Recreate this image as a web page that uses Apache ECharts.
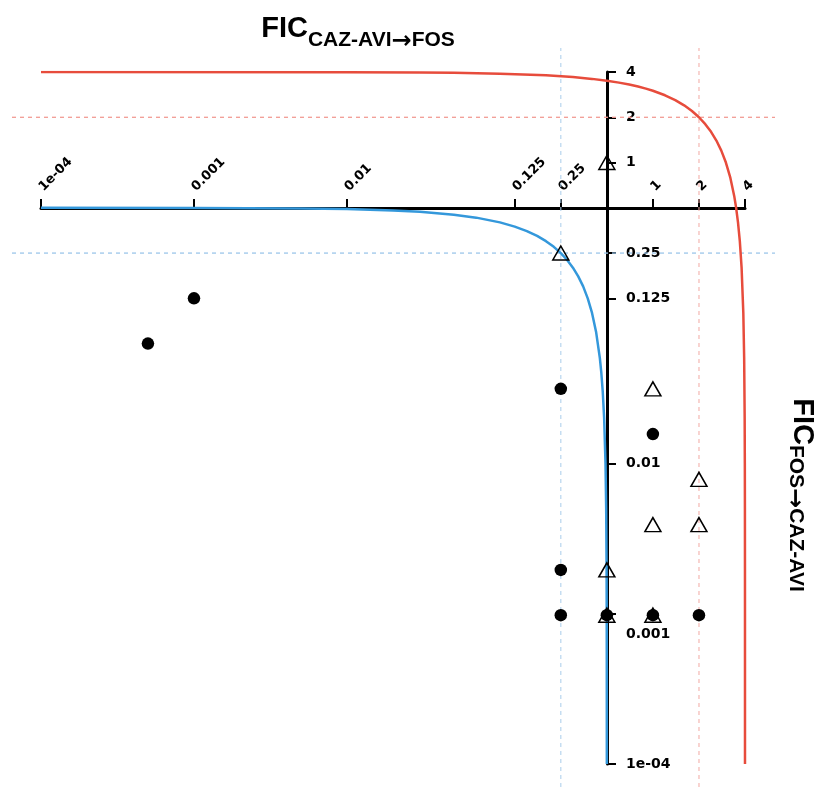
<!DOCTYPE html>
<html>
<head>
<meta charset="utf-8">
<script src="https://cdn.jsdelivr.net/npm/echarts@6/dist/echarts.min.js"></script>
<style>html,body{margin:0;padding:0;background:#fff}#c{width:814px;height:787px}</style>
</head>
<body>
<div id="c"></div>
<script>
// ---- tick values / labels ----
var xTickValues = [0.0001, 0.001, 0.01, 0.125, 0.25, 1, 2, 4];
var xTickLabels = ['1e-04', '0.001', '0.01', '0.125', '0.25', '1', '2', '4'];
var yTickValues = [4, 2, 1, 0.25, 0.125, 0.01, 0.001, 0.0001];
var yTickLabels = ['4', '2', '1', '0.25', '0.125', '0.01', '0.001', '1e-04'];

// ---- isobole (additivity) lines ----
var redX = [0.0001, 0.01, 0.03, 0.05, 0.1, 0.2, 0.3, 0.4, 0.5, 0.6, 0.7, 0.8, 0.9, 1.0, 1.2, 1.4, 1.6, 1.8, 2.0, 2.2, 2.4, 2.6, 2.8, 3.0, 3.2, 3.4, 3.5, 3.6, 3.7, 3.8, 3.9, 3.95, 3.98, 3.99, 3.995, 3.998, 3.999, 3.9995, 3.9999];
var redY = [3.9999, 3.99, 3.97, 3.95, 3.9, 3.8, 3.7, 3.6, 3.5, 3.4, 3.3, 3.2, 3.1, 3.0, 2.8, 2.6, 2.4, 2.2, 2.0, 1.8, 1.6, 1.4, 1.2, 1.0, 0.8, 0.6, 0.5, 0.4, 0.3, 0.2, 0.1, 0.05, 0.02, 0.01, 0.005, 0.002, 0.001, 0.0005, 0.0001];
var blueX = [0.0001, 0.001, 0.005, 0.01, 0.02, 0.03, 0.05, 0.07, 0.1, 0.125, 0.15, 0.175, 0.2, 0.225, 0.25, 0.275, 0.3, 0.325, 0.35, 0.375, 0.4, 0.425, 0.45, 0.46, 0.47, 0.48, 0.49, 0.495, 0.498, 0.499, 0.4995, 0.4999];
var blueY = [0.4999, 0.499, 0.495, 0.49, 0.48, 0.47, 0.45, 0.43, 0.4, 0.375, 0.35, 0.325, 0.3, 0.275, 0.25, 0.225, 0.2, 0.175, 0.15, 0.125, 0.1, 0.075, 0.05, 0.04, 0.03, 0.02, 0.01, 0.005, 0.002, 0.001, 0.0005, 0.0001];

// ---- observed points ----
var circleX = [0.001, 0.0005, 0.25, 1, 0.25, 0.25, 0.5, 1, 2];
var circleY = [0.125, 0.0625, 0.03125, 0.015625, 0.001953125, 0.0009765625, 0.0009765625, 0.0009765625, 0.0009765625];
var triX = [0.5, 0.25, 1, 2, 1, 2, 0.5, 0.5, 1];
var triY = [1, 0.25, 0.03125, 0.0078125, 0.00390625, 0.00390625, 0.001953125, 0.0009765625, 0.0009765625];

// ---- reference (dashed) lines ----
var blueRef = 0.25, redRef = 2;
var refSpanX = [0.0000646, 6.28];
var refSpanY = [0.0000703, 5.78];

function zip(a, b) { return a.map(function (v, i) { return [v, b[i]]; }); }
function nearestLabel(v, vals, labs) {
  var best = 0, bd = Infinity;
  for (var i = 0; i < vals.length; i++) {
    var d = Math.abs(Math.log(v) - Math.log(vals[i]));
    if (d < bd) { bd = d; best = i; }
  }
  return bd < 0.01 ? labs[best] : '';
}
function refLine(vert, val, color) {
  return {
    type: 'line', xAxisIndex: 1, yAxisIndex: 1, symbol: 'none', silent: true, z: 1,
    lineStyle: { color: color, width: vert ? 1 : 1.3, type: [4, 4] },
    data: vert ? [[val, refSpanY[0]], [val, refSpanY[1]]] : [[refSpanX[0], val], [refSpanX[1], val]]
  };
}

var chart = echarts.init(document.getElementById('c'), null, { renderer: 'canvas' });
var labelFont = 'DejaVu Sans';
var titleFont = 'Liberation Sans';
function titleRich(padA) {
  return {
    a: { fontFamily: titleFont, fontWeight: 'bold', fontSize: 29, fill: '#000', verticalAlign: 'bottom', padding: [0, 0, padA + 3, 0] },
    b: { fontFamily: titleFont, fontWeight: 'bold', fontSize: 21, fill: '#000', verticalAlign: 'bottom', padding: [0, 0, 3, 0] },
    r: { fontFamily: 'DejaVu Sans', fontWeight: 'bold', fontSize: 24, fill: '#000', verticalAlign: 'bottom' }
  };
}
chart.setOption({
  animation: false,
  backgroundColor: '#fff',
  grid: [
    { left: 41, right: 69, top: 72, bottom: 23, containLabel: false, outerBoundsMode: 'none' },
    { left: 12, right: 39, top: 48, bottom: 0, containLabel: false, outerBoundsMode: 'none' }
  ],
  xAxis: [{
    type: 'log', logBase: 2, min: 0.0001, max: 4, position: 'top', offset: -136, gridIndex: 0,
    axisLine: { lineStyle: { color: '#000', width: 3 } },
    axisTick: { customValues: xTickValues, length: 9, lineStyle: { color: '#000', width: 2 } },
    axisLabel: {
      customValues: xTickValues, rotate: -45, margin: 19,
      fontFamily: labelFont, fontWeight: 'bold', fontSize: 13, color: '#000',
      formatter: function (v) { return nearestLabel(v, xTickValues, xTickLabels); }
    },
    splitLine: { show: false }, minorTick: { show: false }
  }, {
    type: 'log', logBase: 2, min: refSpanX[0], max: refSpanX[1], gridIndex: 1, show: false,
    splitLine: { show: false }
  }],
  yAxis: [{
    type: 'log', logBase: 2, min: 0.0001, max: 4, position: 'right', offset: -138, gridIndex: 0,
    axisLine: { lineStyle: { color: '#000', width: 3 } },
    axisTick: { customValues: yTickValues, length: 9, lineStyle: { color: '#000', width: 2 } },
    axisLabel: {
      customValues: yTickValues, margin: 19,
      fontFamily: labelFont, fontWeight: 'bold', fontSize: 14, color: '#000',
      formatter: function (v) {
        var s = nearestLabel(v, yTickValues, yTickLabels);
        return s === '0.001' ? '{low|' + s + '}' : s;
      },
      rich: { low: { padding: [42, 0, 0, 0], fontFamily: labelFont, fontWeight: 'bold', fontSize: 14, color: '#000' } }
    },
    splitLine: { show: false }, minorTick: { show: false }
  }, {
    type: 'log', logBase: 2, min: refSpanY[0], max: refSpanY[1], gridIndex: 1, show: false,
    splitLine: { show: false }
  }],
  series: [
    refLine(true, blueRef, '#a9cdea'),
    refLine(false, blueRef, '#9cc6ea'),
    refLine(true, redRef, '#f2a9a3'),
    refLine(false, redRef, '#f29c94'),
    { type: 'line', symbol: 'none', data: zip(redX, redY), lineStyle: { color: '#e74c3c', width: 2.5 }, z: 3 },
    { type: 'line', symbol: 'none', data: zip(blueX, blueY), lineStyle: { color: '#3498db', width: 2.5 }, z: 3 },
    { type: 'scatter', symbol: 'circle', symbolSize: 12.5, data: zip(circleX, circleY), itemStyle: { color: '#000', opacity: 1 }, z: 4 },
    { type: 'scatter', symbol: 'triangle', symbolSize: [16, 14], data: zip(triX, triY),
      itemStyle: { color: 'rgba(0,0,0,0)', borderColor: '#000', borderWidth: 1.5, opacity: 1 }, z: 5 }
  ],
  graphic: [
    {
      type: 'text', x: 358, y: 54,
      style: { text: '{a|FIC}{b|CAZ-AVI}{r|→}{b|FOS}', align: 'center', verticalAlign: 'bottom', rich: titleRich(8) }
    },
    {
      type: 'text', x: 782, y: 495, rotation: -Math.PI / 2,
      style: { text: '{a|FIC}{b|FOS}{r|→}{b|CAZ-AVI}', align: 'center', verticalAlign: 'bottom', rich: titleRich(2) }
    }
  ]
});
</script>
</body>
</html>
